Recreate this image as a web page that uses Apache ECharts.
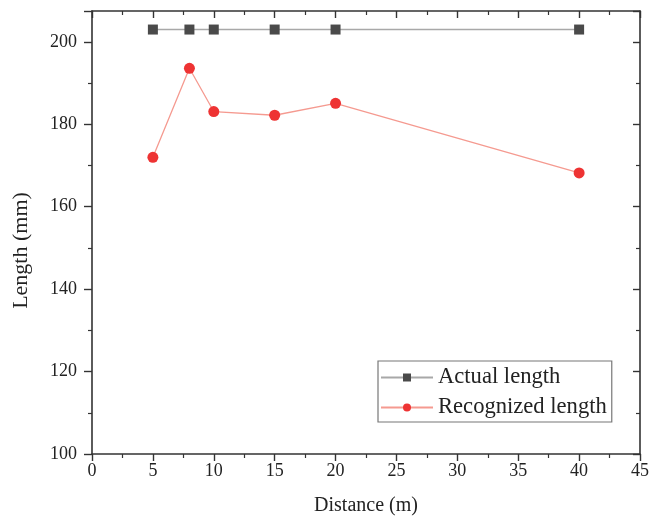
<!DOCTYPE html>
<html>
<head>
<meta charset="utf-8">
<script src="https://cdn.jsdelivr.net/npm/echarts@6/dist/echarts.min.js"></script>
<style>
  html, body { margin: 0; padding: 0; background: #fff; }
  #chart { width: 652px; height: 523px; }
</style>
</head>
<body>
<div id="chart"></div>
<script>
const distance = [5, 8, 10, 15, 20, 40];
const actualLength = [203, 203, 203, 203, 203, 203];
const recognizedLength = [172.0, 193.6, 183.1, 182.2, 185.1, 168.2];
const seriesNames = ["Actual length", "Recognized length"];

const FONT = "Liberation Serif";
const AXIS_COLOR = "#333";

const pairs = (xs, ys) => xs.map((x, i) => [x, ys[i]]);

const frameAxis = (extra) => Object.assign({
   axisLine: { show: true, onZero: false, lineStyle: { color: AXIS_COLOR, width: 1.6 } },
   axisTick: { show: true, inside: true, length: 7, lineStyle: { color: AXIS_COLOR, width: 1.4 } },
   minorTick: { show: true, splitNumber: 2, length: 4, lineStyle: { color: AXIS_COLOR, width: 1.2 } },
   axisLabel: { show: false },
   splitLine: { show: false },
}, extra);

let chart = echarts.init(document.getElementById("chart"));
let option = {
   backgroundColor: "#fff",
   animation: false,
   grid: { left: 92, right: 10, top: 11, bottom: 69 },
   legend: {
      data: seriesNames,
      orient: "vertical",
      left: 378,
      top: 361,
      itemWidth: 52,
      itemHeight: 10,
      itemGap: 7,
      padding: [5, 5, 3, 2],
      borderColor: "#777",
      borderWidth: 1.2,
      textStyle: { fontFamily: FONT, fontSize: 22.6, color: "#222" },
   },
   xAxis: [
      {
         type: "value",
         min: 0,
         max: 45,
         interval: 5,
         name: "Distance (m)",
         nameLocation: "middle",
         nameGap: 42,
         nameTextStyle: { fontFamily: FONT, fontSize: 20, color: "#222" },
         axisLine: { show: true, onZero: false, lineStyle: { color: AXIS_COLOR, width: 1.6 } },
         axisTick: { show: true, length: 7, lineStyle: { color: AXIS_COLOR, width: 1.4 } },
         minorTick: { show: true, splitNumber: 2, length: 4, lineStyle: { color: AXIS_COLOR, width: 1.2 } },
         axisLabel: { fontFamily: FONT, fontSize: 18, color: "#222", margin: 8 },
         splitLine: { show: false },
      },
      frameAxis({ type: "value", position: "top", min: 0, max: 45, interval: 5 }),
   ],
   yAxis: [
      {
         type: "value",
         min: 100,
         max: 207.5,
         interval: 20,
         name: "Length (mm)",
         nameLocation: "middle",
         nameGap: 60,
         nameTextStyle: { fontFamily: FONT, fontSize: 22, color: "#222", padding: [0, 36, 0, 0] },
         axisLine: { show: true, onZero: false, lineStyle: { color: AXIS_COLOR, width: 1.6 } },
         axisTick: { show: true, length: 8, lineStyle: { color: AXIS_COLOR, width: 1.4 } },
         minorTick: { show: true, splitNumber: 2, length: 4, lineStyle: { color: AXIS_COLOR, width: 1.2 } },
         axisLabel: {
            fontFamily: FONT, fontSize: 18, color: "#222", margin: 15,
            formatter: (v) => (v % 20 === 0 ? String(v) : ""),
         },
         splitLine: { show: false },
      },
      frameAxis({ type: "value", position: "right", min: 100, max: 207.5, interval: 20 }),
   ],
   series: [
      {
         name: seriesNames[0],
         type: "line",
         data: pairs(distance, actualLength),
         symbol: "rect",
         symbolSize: 10,
         itemStyle: { color: "#4a4a4a" },
         lineStyle: { color: "#a8a8a8", width: 1.5 },
         z: 3,
      },
      {
         name: seriesNames[1],
         type: "line",
         data: pairs(distance, recognizedLength),
         symbol: "circle",
         symbolSize: 11,
         itemStyle: { color: "#ee3333" },
         lineStyle: { color: "#f59a90", width: 1.3 },
         z: 4,
      },
   ],
};
chart.setOption(option);
</script>
</body>
</html>
